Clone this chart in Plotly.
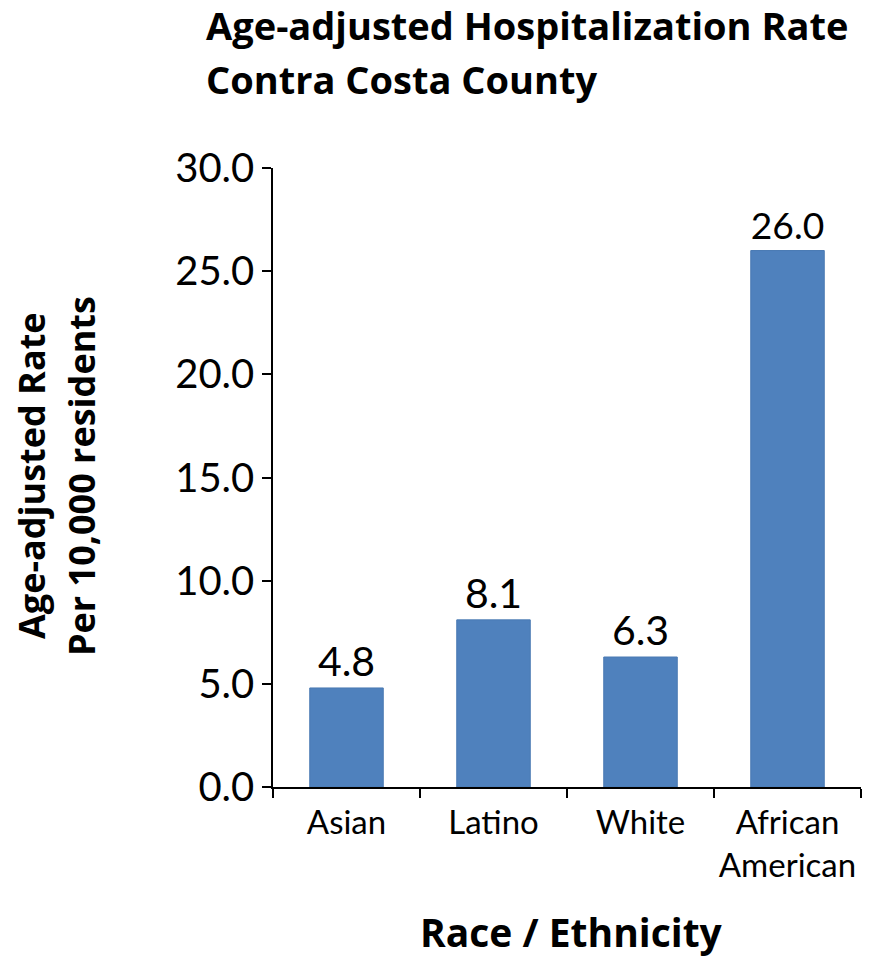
import plotly.graph_objects as go

categories = ["Asian", "Latino", "White", "African<br>American"]
values = [4.8, 8.1, 6.3, 26.0]
tick_vals = [0, 5, 10, 15, 20, 25, 30]
tick_text = ["0.0", "5.0", "10.0", "15.0", "20.0", "25.0", "30.0"]

FONT = "Lato"
BFONT = "Open Sans"
W, H = 885, 959
L, R, T, B = 273, 861, 168, 787
PW, PH = R - L, B - T


def px(x):
    return (x - L) / PW


def py(y):
    return (B - y) / PH


fig = go.Figure()
fig.add_trace(go.Bar(
    x=categories, y=values,
    marker=dict(color="#4F81BD", line=dict(color="#4A7AB3", width=1)),
    width=0.5,
    text=[f"{v:.1f}" for v in values],
    textposition="outside",
    textfont=dict(size=41, color="black", family=FONT),
    cliponaxis=False,
))

fig.update_layout(
    width=W, height=H,
    paper_bgcolor="white", plot_bgcolor="white",
    margin=dict(l=L, r=W - R, t=T, b=H - B, autoexpand=False),
    showlegend=False,
    font=dict(family=FONT, color="black"),
    xaxis=dict(
        showline=True, linecolor="black", linewidth=1.5,
        ticks="outside", ticklen=9, tickcolor="black", tickwidth=1.5,
        tickson="boundaries", ticklabelstandoff=6,
        tickfont=dict(size=33, family=FONT, color="black"),
        showgrid=False,
    ),
    yaxis=dict(
        range=[0, 30], tickvals=tick_vals, ticktext=tick_text,
        showline=True, linecolor="black", linewidth=1.5,
        ticks="outside", ticklen=9, tickcolor="black", tickwidth=1.5,
        tickfont=dict(size=40, family=FONT, color="black"),
        showgrid=False, zeroline=False,
    ),
    annotations=[
        dict(text="<b>Age-adjusted Hospitalization Rate</b>",
             xref="paper", yref="paper", x=px(204), y=py(25),
             xanchor="left", yanchor="middle", showarrow=False,
             font=dict(size=38, family=BFONT, color="black")),
        dict(text="<b>Contra Costa County</b>",
             xref="paper", yref="paper", x=px(204), y=py(79),
             xanchor="left", yanchor="middle", showarrow=False,
             font=dict(size=38, family=BFONT, color="black")),
        dict(text="<b>Age-adjusted Rate</b>",
             xref="paper", yref="paper", x=px(31), y=py(476),
             xanchor="center", yanchor="middle", textangle=-90, showarrow=False,
             font=dict(size=36, family=BFONT, color="black")),
        dict(text="<b>Per 10,000 residents</b>",
             xref="paper", yref="paper", x=px(81), y=py(476),
             xanchor="center", yanchor="middle", textangle=-90, showarrow=False,
             font=dict(size=36, family=BFONT, color="black")),
        dict(text="<b>Race / Ethnicity</b>",
             xref="paper", yref="paper", x=px(571), y=py(931),
             xanchor="center", yanchor="middle", showarrow=False,
             font=dict(size=39, family=BFONT, color="black")),
    ],
)

fig.write_html("out.html", config={"displayModeBar": False},
               post_script="document.body.style.margin='0';")
